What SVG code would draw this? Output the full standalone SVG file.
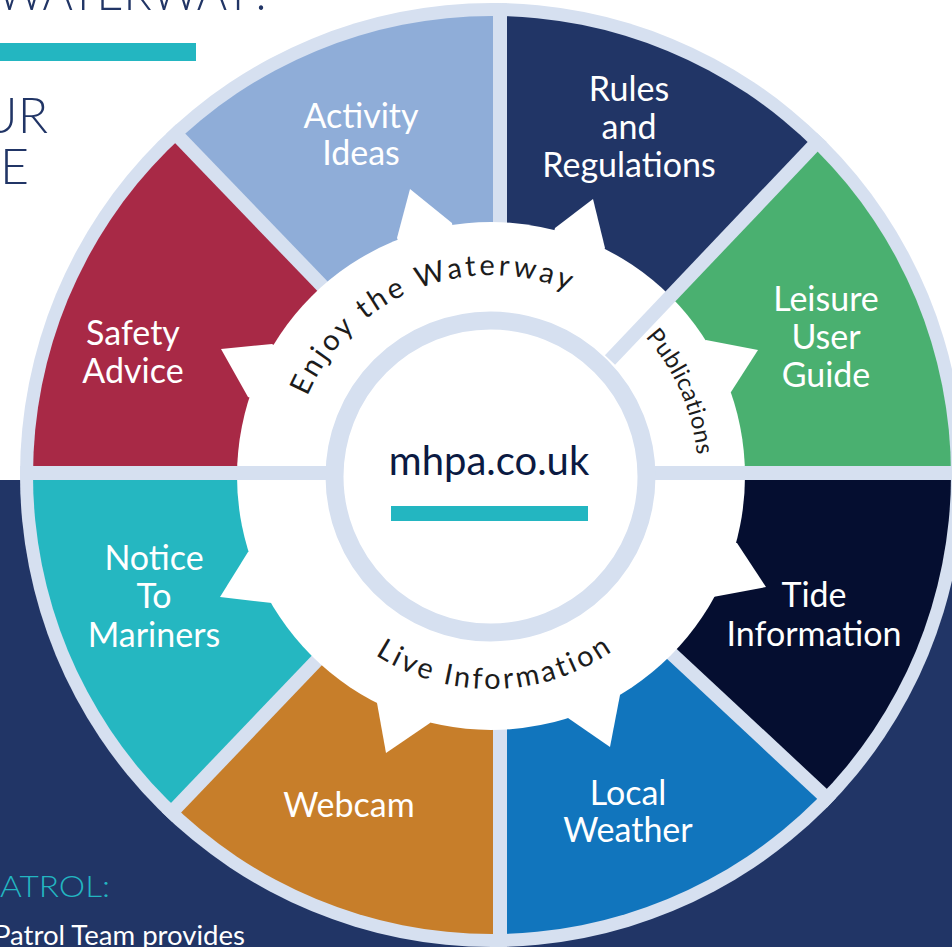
<svg xmlns="http://www.w3.org/2000/svg" xmlns:xlink="http://www.w3.org/1999/xlink" width="952" height="947" viewBox="0 0 952 947">
<style>
.lbl{font-family:Lato,"Liberation Sans",sans-serif;font-size:34px;fill:#ffffff;text-anchor:middle}
.arc{font-family:Lato,"Liberation Sans",sans-serif;fill:#1c1c1c}
.div{stroke:#d6e0f0;stroke-width:14;fill:none}
.arrow{fill:#ffffff}
.head{font-family:Lato,"Liberation Sans",sans-serif;font-weight:300;fill:#213566}
</style>
<defs>
<clipPath id="inner"><circle cx="492" cy="475" r="459"/></clipPath>
<clipPath id="outer"><circle cx="492" cy="475" r="472"/></clipPath>
<path id="pEnjoy" d="M 295.1 515.2 A 200 200 0 0 1 661.3 370.2"/>
<path id="pLive" d="M 281.1 516.6 A 214 214 0 0 0 702.5 507.7"/>
<path id="pPub" d="M 513.7 269.2 A 207 207 0 0 1 657.8 597.5"/>
</defs>
<rect x="0" y="0" width="952" height="947" fill="#ffffff"/>
<rect x="0" y="480" width="952" height="467" fill="#213566"/>
<g id="header">
<text class="head" x="-3" y="10" font-size="52" textLength="275" lengthAdjust="spacingAndGlyphs">WATERWAY?</text>
<rect x="0" y="43" width="196" height="18" fill="#23b6c1"/>
<text class="head" x="48" y="133" font-size="50" text-anchor="end">UR</text>
<text class="head" x="29" y="184" font-size="50" text-anchor="end">TE</text>
<text x="0" y="897" font-family="Lato,'Liberation Sans',sans-serif" font-weight="300" font-size="29" fill="#23b6c1" textLength="110" lengthAdjust="spacingAndGlyphs">ATROL:</text>
<text x="-6" y="945" font-family="Lato,'Liberation Sans',sans-serif" font-size="26" fill="#ffffff" textLength="251" lengthAdjust="spacingAndGlyphs">Patrol Team provides</text>
</g>
<circle id="ring" cx="492" cy="475" r="472" fill="#d6e0f0"/>
<g clip-path="url(#inner)">
<g id="rules"><polygon points="492,475 500,400 500,-300 1091.6,-148.2 610,360" fill="#213566"/></g>
<g id="leisure"><polygon points="492,475 610,360 1091.6,-148.2 1300,473 600,473" fill="#4ab070"/></g>
<g id="tide"><polygon points="492,475 600,473 1300,473 1184.7,1132.4 600,587" fill="#050e30"/></g>
<g id="weather"><polygon points="492,475 600,587 1184.7,1132.4 500,1300 500,560" fill="#1175bd"/></g>
<g id="webcam"><polygon points="492,475 500,560 500,1300 -185,1186.8 367,608" fill="#c77e2a"/></g>
<g id="notice"><polygon points="492,475 367,608 -185,1186.8 -300,473 400,473" fill="#25b7c1"/></g>
<g id="safety"><polygon points="492,475 400,473 -300,473 -198.3,-254 391.6,358" fill="#a82946"/></g>
<g id="activity"><polygon points="492,475 391.6,358 -198.3,-254 500,-300 500,400" fill="#8fadd8"/></g>
</g>
<g clip-path="url(#outer)">
<line class="div" x1="500" y1="260" x2="500" y2="-20"/>
<line class="div" x1="500" y1="700" x2="500" y2="970"/>
<line class="div" x1="391.6" y1="358" x2="150" y2="107"/>
<line class="div" x1="600" y1="587" x2="849" y2="819"/>
<line class="div" x1="367" y1="608" x2="150" y2="835"/>
</g>
<circle id="band" cx="491" cy="476" r="254" fill="#ffffff"/>
<g clip-path="url(#outer)">
<line class="div" x1="0" y1="473" x2="980" y2="473"/>
<line class="div" x1="610" y1="360" x2="840" y2="118"/>
</g>
<g id="connectors">
<polygon class="arrow" points="397,238 410,189 452,223 454.3,237.8 402.5,252"/>
<polygon class="arrow" points="555,228 593,199 605,248 598,261 551,242.5"/>
<polygon class="arrow" points="706,340 758,350 731,392 717,397 693,348"/>
<polygon class="arrow" points="737,543 766,587 713,597 700,590 722.5,539"/>
<polygon class="arrow" points="620,695 610,747 568,718 563.5,703.7 612.4,682"/>
<polygon class="arrow" points="377,703 386,753 430,723 433.6,708.4 383.7,689.6"/>
<polygon class="arrow" points="248,552 220,597 272,603 285,595.4 262.3,547.5"/>
<polygon class="arrow" points="272,344 221,349 248,397 262.3,401.6 285,351.7"/>
</g>
<g id="hub">
<circle cx="490.5" cy="476.5" r="156" fill="#ffffff" stroke="#d6e0f0" stroke-width="18"/>
<text x="489" y="475" font-family="Lato,'Liberation Sans',sans-serif" font-size="40" fill="#0b1a42" text-anchor="middle">mhpa.co.uk</text>
<rect x="391" y="506" width="197" height="15" fill="#23b6c1"/>
</g>
<g id="sections">
<text class="arc" font-size="29" letter-spacing="3.3"><textPath href="#pEnjoy" xlink:href="#pEnjoy" startOffset="50%" text-anchor="middle">Enjoy the Waterway</textPath></text>
<text class="arc" font-size="29" letter-spacing="2.9"><textPath href="#pLive" xlink:href="#pLive" startOffset="50%" text-anchor="middle">Live Information</textPath></text>
<text class="arc" font-size="24" letter-spacing="0.3"><textPath href="#pPub" xlink:href="#pPub" startOffset="50%" text-anchor="middle">Publications</textPath></text>
</g>
<g id="labels">
<text class="lbl" x="361" y="128">Activity</text>
<text class="lbl" x="361" y="165">Ideas</text>
<text class="lbl" x="629" y="101">Rules</text>
<text class="lbl" x="629" y="139">and</text>
<text class="lbl" x="629" y="177">Regulations</text>
<text class="lbl" x="826" y="311">Leisure</text>
<text class="lbl" x="826" y="349">User</text>
<text class="lbl" x="826" y="387">Guide</text>
<text class="lbl" x="814" y="607">Tide</text>
<text class="lbl" x="814" y="646">Information</text>
<text class="lbl" x="628" y="805">Local</text>
<text class="lbl" x="628" y="842">Weather</text>
<text class="lbl" x="349" y="817">Webcam</text>
<text class="lbl" x="154" y="570">Notice</text>
<text class="lbl" x="154" y="608">To</text>
<text class="lbl" x="154" y="647">Mariners</text>
<text class="lbl" x="133" y="345">Safety</text>
<text class="lbl" x="133" y="383">Advice</text>
</g>
</svg>
